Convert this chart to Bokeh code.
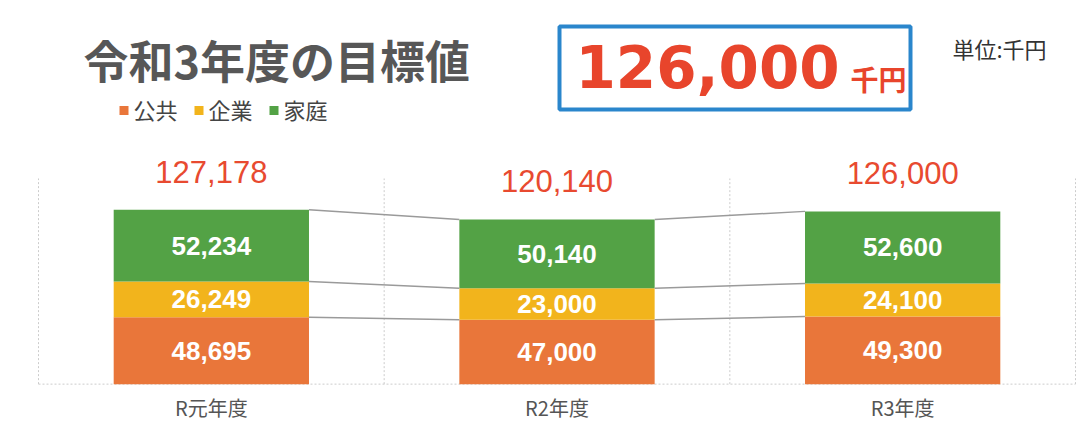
from bokeh.plotting import figure
from bokeh.layouts import column
from bokeh.models import Range1d, FixedTicker
from bokeh.core.properties import value
from bokeh.embed import file_html
from bokeh.resources import INLINE

# ---- data ----
categories = ["R元年度", "R2年度", "R3年度"]
series = ["公共", "企業", "家庭"]
public = [48695, 47000, 49300]
business = [26249, 23000, 24100]
household = [52234, 50140, 52600]
colors = ["#e9763a", "#f2b41c", "#53a245"]
title_text = "令和3年度の目標値"
unit_text = "単位:千円"
goal_unit = "千円"

values = [public, business, household]
totals = [sum(t) for t in zip(*values)]
goal = totals[-1]

JP = "Noto Sans CJK JP"
W_PAGE = 1082
BL, BR = 33, 2          # shared left/right borders so both frames align

# ---- header (data coords = page pixels) ----
hdr = figure(width=W_PAGE, height=140, x_range=Range1d(BL, W_PAGE - BR), y_range=Range1d(140, 0),
             output_backend="svg", toolbar_location=None,
             min_border_left=BL, min_border_right=BR, min_border_top=0, min_border_bottom=0,
             x_axis_location=None, y_axis_location=None)
hdr.grid.visible = False
hdr.outline_line_color = None

hdr.text(x=[83], y=[59], text=[title_text], text_font=value(JP), text_font_style="bold",
         text_font_size="45px", text_color="#575757", text_baseline="middle")

leg_x = [119 + 75 * i for i in range(len(series))]
hdr.rect(x=[lx + 4.5 for lx in leg_x], y=[110] * len(series), width=9, height=9,
         fill_color=colors, line_color=None)
hdr.text(x=[lx + 14 for lx in leg_x], y=[108] * len(series), text=series,
         text_font=value(JP), text_font_size="22px", text_color="#444444",
         text_baseline="middle")

hdr.quad(left=[559], right=[910], top=[26], bottom=[109], fill_color=None,
         line_color="#2a86cc", line_width=4)
hdr.text(x=[575], y=[66], text=[f"{goal:,}"], text_font=value("DejaVu Sans"),
         text_font_style="bold", text_font_size="58px", text_color="#e8452c",
         text_baseline="middle")
hdr.text(x=[850], y=[78], text=[goal_unit], text_font=value(JP), text_font_style="bold",
         text_font_size="28px", text_color="#e8452c", text_baseline="middle")
hdr.text(x=[952], y=[47], text=[unit_text], text_font=value(JP), text_font_size="22px",
         text_color="#333333", text_baseline="middle")

# ---- chart ----
AXIS_MAX = 150000        # top of the original plot area
XPAD = 0.0145
p = figure(width=W_PAGE, height=287,
           x_range=Range1d(-XPAD, len(categories) + XPAD), y_range=Range1d(-1000, 170400),
           output_backend="svg", toolbar_location=None,
           min_border_left=BL, min_border_right=BR, min_border_top=10, min_border_bottom=42,
           y_axis_location=None)
p.grid.visible = False
p.outline_line_color = None

xs = [i + 0.5 for i in range(len(categories))]
p.xaxis.ticker = FixedTicker(ticks=xs)
p.xaxis.major_label_overrides = {x: c for x, c in zip(xs, categories)}
p.xaxis.axis_line_color = None
p.xaxis.major_tick_line_color = None
p.xaxis.major_tick_out = 0
p.xaxis.major_tick_in = 0
p.xaxis.minor_tick_line_color = None
p.xaxis.major_label_text_font = JP
p.xaxis.major_label_text_font_size = "20px"
p.xaxis.major_label_text_color = "#555555"
p.xaxis.major_label_standoff = 7

# dotted plot-area frame (no top edge) and category separators
bounds = list(range(len(categories) + 1))
p.segment(x0=bounds, y0=[0] * len(bounds), x1=bounds, y1=[AXIS_MAX] * len(bounds),
          line_color="#cccccc", line_dash="2 2", line_width=1)
p.segment(x0=[0], y0=[0], x1=[len(categories)], y1=[0],
          line_color="#cccccc", line_dash="2 2", line_width=1)

W = 0.565
bottoms = [0] * len(categories)
levels = []
for vals, col in zip(values, colors):
    tops = [b + v for b, v in zip(bottoms, vals)]
    p.vbar(x=xs, bottom=bottoms, top=tops, width=W, fill_color=col, line_color=None)
    p.text(x=xs, y=[b + v / 2 for b, v in zip(bottoms, vals)], text=[f"{v:,}" for v in vals],
           text_font=value("Liberation Sans"), text_font_style="bold", text_font_size="26px",
           text_color="white", text_align="center", text_baseline="middle")
    levels.append(tops)
    bottoms = tops

for lv in levels:
    p.segment(x0=[xs[i] + W / 2 for i in range(len(xs) - 1)], y0=lv[:-1],
              x1=[xs[i + 1] - W / 2 for i in range(len(xs) - 1)], y1=lv[1:],
              line_color="#9a9a9a", line_width=1.5)

pad = 38 * AXIS_MAX / 206
p.text(x=xs, y=[t + pad for t in totals], text=[f"{t:,}" for t in totals],
       text_font=value("Liberation Sans"), text_font_size="31px", text_color="#e84a30",
       text_align="center", text_baseline="middle")

layout = column(hdr, p)
open("out.html", "w").write(file_html(layout, INLINE))
